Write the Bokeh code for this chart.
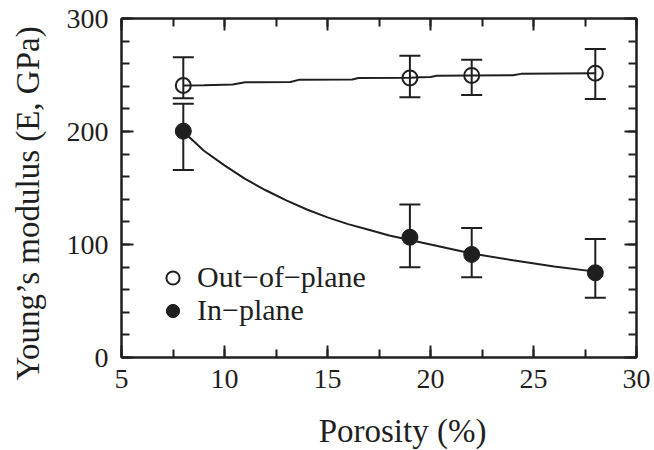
import numpy as np
from bokeh.plotting import figure
from bokeh.models import (LinearAxis, Range1d, Whisker, TeeHead, ColumnDataSource,
                          Label, Legend, LegendItem, SingleIntervalTicker,
                          CustomJSTickFormatter, Grid)
from bokeh.embed import file_html
from bokeh.resources import INLINE

# ---- data ----
porosity = [8, 19, 22, 28]

out_E = [240.7, 247.4, 249.6, 251.6]
out_upper = [265.8, 267.0, 263.4, 273.0]
out_lower = [229.5, 230.4, 232.4, 228.8]

in_E = [200.3, 106.4, 91.2, 75.0]
in_upper = [224.5, 135.4, 114.5, 104.9]
in_lower = [166.0, 79.9, 71.0, 52.8]

# fitted curves
out_fit_x = [8, 9, 10.4, 11.0, 13.2, 13.6, 16.2, 16.5, 19, 19.5, 20.0, 20.3, 22, 24.0, 24.4, 28]
out_fit_y = [240.7, 240.9, 241.5, 243.6, 243.8, 245.7, 246.0, 247.4, 247.6, 248.1, 248.3, 249.3, 249.6, 249.8, 251.0, 251.6]

in_fit_x = [8, 9, 10, 11, 12, 13, 14, 15, 16, 17, 18, 19, 20, 22, 24, 26, 28]
in_fit_y = [200, 183, 170, 158, 148, 139, 131, 124, 118, 113, 108, 104, 100, 92, 86, 80.5, 76]

x_label = "Porosity (%)"
y_label = "Young’s modulus (E, GPa)"
legend_labels = ["Out−of−plane", "In−plane"]

INK = "#1f1f1f"
FONT = "Liberation Serif"

p = figure(width=654, height=450, output_backend="svg", toolbar_location=None,
           x_range=Range1d(5, 30), y_range=Range1d(0, 300),
           x_axis_location=None, y_axis_location=None,
           min_border_left=121, min_border_right=18, min_border_top=18,
           min_border_bottom=93)
p.outline_line_color = None
p.background_fill_color = "white"
p.border_fill_color = "white"
for r in list(p.center):
    if isinstance(r, Grid):
        r.visible = False


def make_axis(ticker, labels):
    ax = LinearAxis(ticker=ticker)
    ax.axis_line_width = 2.5
    ax.axis_line_color = INK
    ax.major_tick_in = 12
    ax.major_tick_out = 0
    ax.minor_tick_in = 8
    ax.minor_tick_out = 0
    ax.major_tick_line_width = 2
    ax.minor_tick_line_width = 2
    ax.major_tick_line_color = INK
    ax.minor_tick_line_color = INK
    ax.major_label_text_font = FONT
    ax.major_label_text_color = INK
    if labels:
        ax.major_label_text_font_size = "28px"
    else:
        ax.formatter = CustomJSTickFormatter(code="return ''")
        ax.major_label_text_font_size = "1px"
        ax.major_label_standoff = 0
    return ax


xt = lambda: SingleIntervalTicker(interval=5, num_minor_ticks=2)
yt = lambda: SingleIntervalTicker(interval=100, num_minor_ticks=5)

bx = make_axis(xt(), True)
bx.major_label_standoff = 12
p.add_layout(bx, "below")
ly = make_axis(yt(), True)
ly.major_label_standoff = 13
p.add_layout(ly, "left")
p.add_layout(make_axis(xt(), False), "above")
p.add_layout(make_axis(yt(), False), "right")

# fitted curves
p.line(out_fit_x, out_fit_y, line_color=INK, line_width=2)
p.line(in_fit_x, in_fit_y, line_color=INK, line_width=2)

# error bars
for up, lo in ((out_upper, out_lower), (in_upper, in_lower)):
    src = ColumnDataSource(dict(x=porosity, upper=up, lower=lo))
    w = Whisker(source=src, base="x", upper="upper", lower="lower",
                line_color=INK, line_width=2,
                upper_head=TeeHead(size=21, line_color=INK, line_width=2),
                lower_head=TeeHead(size=21, line_color=INK, line_width=2))
    p.add_layout(w)

r_open = p.scatter(porosity, out_E, marker="circle", size=15,
                   fill_color="white", fill_alpha=0.0, line_color=INK, line_width=2)
r_fill = p.scatter(porosity, in_E, marker="circle", size=16,
                   fill_color=INK, line_color=INK, line_width=1)

# one legend per entry so each row sits where the reference has it
for lab, rend, loc in ((legend_labels[0], r_open, (35, 63)),
                       (legend_labels[1], r_fill, (35, 30))):
    lg = Legend(items=[LegendItem(label=lab, renderers=[rend])],
                location=loc, padding=0, margin=0, spacing=0,
                glyph_width=33, glyph_height=33, label_standoff=8,
                label_text_font=FONT, label_text_font_size="30px",
                label_text_color=INK, border_line_color=None,
                background_fill_alpha=0)
    p.add_layout(lg)

# axis titles as labels in the side panels (not clipped to the frame)
p.add_layout(Label(x=281, y=-4, x_units="screen", y_units="screen", text=x_label,
                   text_align="center", text_baseline="middle", text_font=FONT,
                   text_font_size="33px", text_color=INK), "below")
p.add_layout(Label(x=0, y=-23, x_units="screen", y_units="screen", text=y_label,
                   angle=np.pi / 2, text_align="left", text_baseline="middle",
                   text_font=FONT, text_font_size="33px", text_color=INK), "left")

open("out.html", "w").write(file_html(p, INLINE))
